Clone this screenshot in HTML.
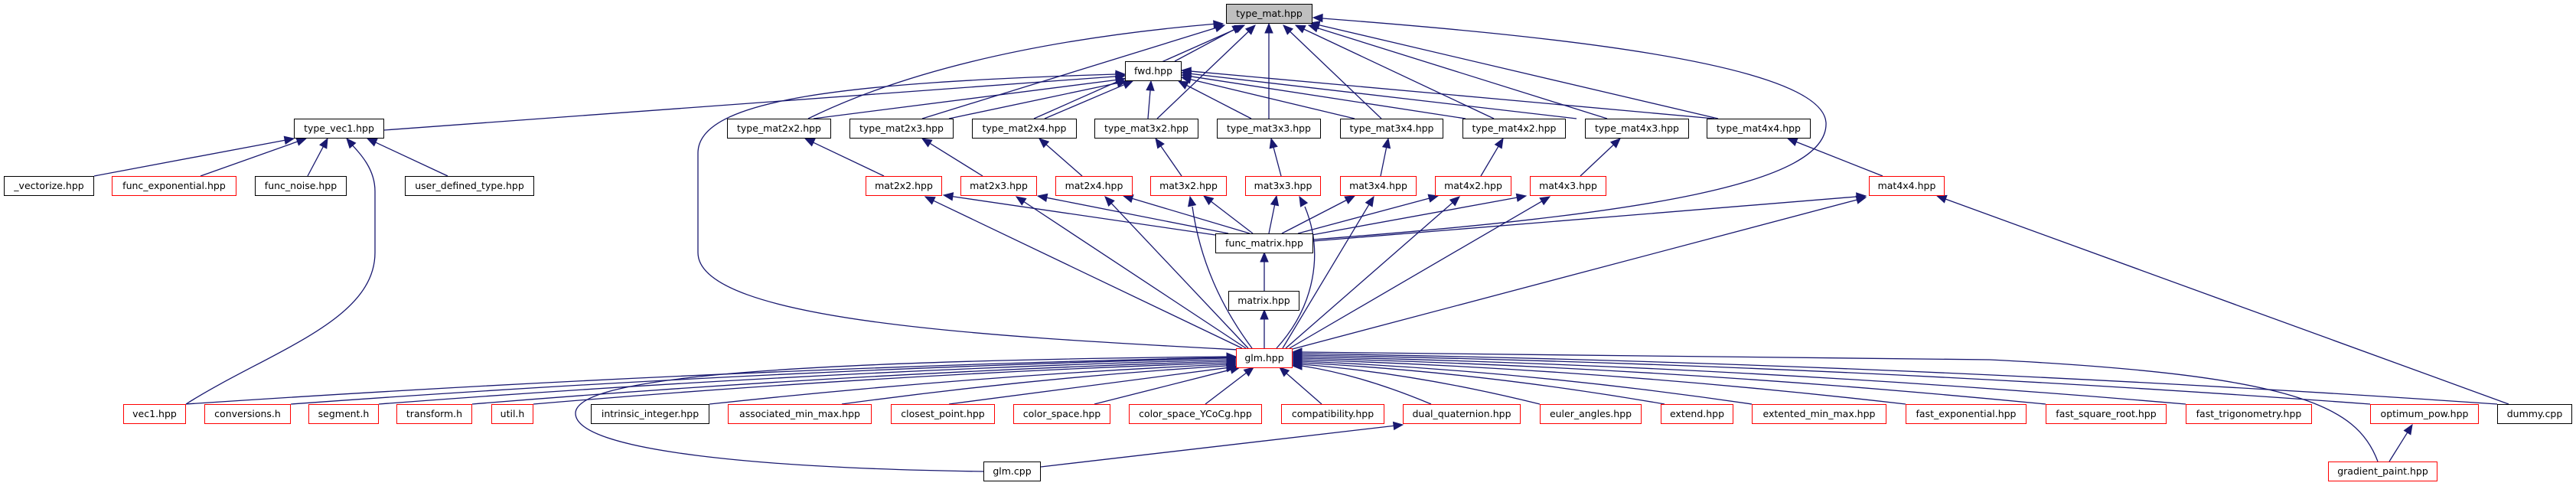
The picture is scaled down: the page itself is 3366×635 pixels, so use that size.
<!DOCTYPE html>
<html><head><meta charset="utf-8"><style>
html,body{margin:0;padding:0;background:#fff;}
#c{position:relative;width:3366px;height:635px;overflow:hidden;}
svg{position:absolute;left:0;top:0;}
.n{position:absolute;box-sizing:border-box;border:1px solid #000;background:#fff;font:12.5px "DejaVu Sans","Liberation Sans",sans-serif;color:#000;text-align:center;line-height:24px;height:26px;white-space:nowrap;}
.r{border-color:#ff0000;}
.g{background:#bfbfbf;}
</style></head><body><div id="c">
<svg id="s" width="3366" height="635" xmlns="http://www.w3.org/2000/svg"></svg>
<div class="n g" style="left:1602px;top:5px;width:113px">type_mat.hpp</div>
<div class="n" style="left:1470px;top:80px;width:74px">fwd.hpp</div>
<div class="n" style="left:384px;top:155px;width:118px">type_vec1.hpp</div>
<div class="n" style="left:950px;top:155px;width:136px">type_mat2x2.hpp</div>
<div class="n" style="left:1110px;top:155px;width:136px">type_mat2x3.hpp</div>
<div class="n" style="left:1270px;top:155px;width:137px">type_mat2x4.hpp</div>
<div class="n" style="left:1430px;top:155px;width:136px">type_mat3x2.hpp</div>
<div class="n" style="left:1590px;top:155px;width:136px">type_mat3x3.hpp</div>
<div class="n" style="left:1751px;top:155px;width:135px">type_mat3x4.hpp</div>
<div class="n" style="left:1911px;top:155px;width:135px">type_mat4x2.hpp</div>
<div class="n" style="left:2071px;top:155px;width:136px">type_mat4x3.hpp</div>
<div class="n" style="left:2230px;top:155px;width:136px">type_mat4x4.hpp</div>
<div class="n" style="left:5px;top:230px;width:118px">_vectorize.hpp</div>
<div class="n r" style="left:146px;top:230px;width:163px">func_exponential.hpp</div>
<div class="n" style="left:333px;top:230px;width:120px">func_noise.hpp</div>
<div class="n" style="left:529px;top:230px;width:169px">user_defined_type.hpp</div>
<div class="n r" style="left:1131px;top:230px;width:100px">mat2x2.hpp</div>
<div class="n r" style="left:1255px;top:230px;width:100px">mat2x3.hpp</div>
<div class="n r" style="left:1379px;top:230px;width:101px">mat2x4.hpp</div>
<div class="n r" style="left:1503px;top:230px;width:100px">mat3x2.hpp</div>
<div class="n r" style="left:1627px;top:230px;width:99px">mat3x3.hpp</div>
<div class="n r" style="left:1751px;top:230px;width:100px">mat3x4.hpp</div>
<div class="n r" style="left:1875px;top:230px;width:100px">mat4x2.hpp</div>
<div class="n r" style="left:1999px;top:230px;width:100px">mat4x3.hpp</div>
<div class="n r" style="left:2442px;top:230px;width:99px">mat4x4.hpp</div>
<div class="n" style="left:1588px;top:305px;width:128px">func_matrix.hpp</div>
<div class="n" style="left:1605px;top:380px;width:93px">matrix.hpp</div>
<div class="n r" style="left:1615px;top:455px;width:74px">glm.hpp</div>
<div class="n r" style="left:161px;top:528px;width:82px">vec1.hpp</div>
<div class="n r" style="left:267px;top:528px;width:113px">conversions.h</div>
<div class="n r" style="left:403px;top:528px;width:92px">segment.h</div>
<div class="n r" style="left:518px;top:528px;width:99px">transform.h</div>
<div class="n r" style="left:642px;top:528px;width:55px">util.h</div>
<div class="n" style="left:772px;top:528px;width:155px">intrinsic_integer.hpp</div>
<div class="n r" style="left:951px;top:528px;width:188px">associated_min_max.hpp</div>
<div class="n r" style="left:1164px;top:528px;width:136px">closest_point.hpp</div>
<div class="n r" style="left:1324px;top:528px;width:127px">color_space.hpp</div>
<div class="n r" style="left:1475px;top:528px;width:174px">color_space_YCoCg.hpp</div>
<div class="n r" style="left:1674px;top:528px;width:135px">compatibility.hpp</div>
<div class="n r" style="left:1833px;top:528px;width:154px">dual_quaternion.hpp</div>
<div class="n r" style="left:2012px;top:528px;width:133px">euler_angles.hpp</div>
<div class="n r" style="left:2170px;top:528px;width:95px">extend.hpp</div>
<div class="n r" style="left:2289px;top:528px;width:176px">extented_min_max.hpp</div>
<div class="n r" style="left:2490px;top:528px;width:158px">fast_exponential.hpp</div>
<div class="n r" style="left:2673px;top:528px;width:158px">fast_square_root.hpp</div>
<div class="n r" style="left:2856px;top:528px;width:165px">fast_trigonometry.hpp</div>
<div class="n r" style="left:3097px;top:528px;width:142px">optimum_pow.hpp</div>
<div class="n" style="left:3263px;top:528px;width:98px">dummy.cpp</div>
<div class="n" style="left:1285px;top:603px;width:75px">glm.cpp</div>
<div class="n r" style="left:3042px;top:603px;width:143px">gradient_paint.hpp</div>
</div>
<script>
var s=document.getElementById('s'),NS='http://www.w3.org/2000/svg',C='#191970';
function add(t,a){var e=document.createElementNS(NS,t);for(var k in a)e.setAttribute(k,a[k]);s.appendChild(e);}
function arrow(px,py,x,y){var dx=x-px,dy=y-py,L=Math.hypot(dx,dy)||1;dx/=L;dy/=L;var l=12,w=5;
var bx=x-dx*l,by=y-dy*l;add('polygon',{points:x+','+y+' '+(bx-dy*w)+','+(by+dx*w)+' '+(bx+dy*w)+','+(by-dx*w),fill:C,stroke:C,'stroke-width':1});return [bx,by];}
function E(x1,y1,x2,y2){var b=arrow(x1,y1,x2,y2);add('line',{x1:x1,y1:y1,x2:b[0],y2:b[1],stroke:C,'stroke-width':1.3});}
function P(d,cx,cy,x,y){arrow(cx,cy,x,y);add('path',{d:d,fill:'none',stroke:C,'stroke-width':1.3});}
// to type_mat
E(1535,80,1623,33);
P('M1056,155 Q1250,60 1590,31',1250,60,1598,31);
E(1205,155,1600,33);E(1351,155,1626,33);E(1512,155,1640,33);E(1658,155,1658,31);
E(1805,155,1677,33);E(1952,155,1693,33);E(2100,155,1710,33);E(2245,155,1712,30);
P('M1716,313 C2150,280 2390,240 2386,160 C2380,80 2000,45 1728,24',1900,30,1716,23);
// to fwd
E(502,170,1470,99);
P('M1618,457 C1300,440 912,420 912,330 L912,200 C912,130 1100,108 1458,97',1300,100,1470,97);
E(1063,155,1470,103);E(1240,155,1472,106);E(1365,155,1480,106);E(1500,155,1504,106);
E(1635,155,1540,106);E(1770,155,1544,101);E(1915,155,1544,98);E(2060,155,1544,95);E(2240,155,1544,92);
// to type_vec1
E(123,230,384,181);E(262,230,400,181);E(402,230,428,181);E(585,230,480,181);
P('M243,528 C350,460 490,420 490,330 L490,250 C490,220 470,200 456,185',465,195,453,181);
// type_matAxB <- matAxB
E(1155,230,1052,181);E(1284,230,1205,181);E(1414,230,1358,181);E(1544,230,1510,181);
E(1674,230,1661,181);E(1804,230,1814,181);E(1935,230,1964,181);E(2065,230,2117,181);E(2460,230,2336,181);
// func_matrix -> mats
E(1588,307,1233,255);E(1605,305,1356,256);E(1633,305,1468,256);E(1637,305,1573,256);
E(1658,305,1668,256);E(1675,305,1770,256);E(1696,305,1879,256);E(1714,307,1994,256);E(1716,315,2438,256);
// glm -> mats
E(1623,455,1209,257);E(1628,455,1328,257);E(1631,455,1444,257);
P('M1636,455 C1595,400 1568,340 1558,270',1560,280,1555,257);
P('M1668,455 C1718,400 1730,330 1705,270',1712,282,1698,257);
E(1676,455,1795,257);E(1680,455,1907,257);E(1685,455,2025,257);E(1689,456,2438,258);
E(3278,528,2531,256);
E(1652,455,1652,405);E(1652,380,1652,330);
// bottom -> glm
var L=[[243,467],[380,468],[495,470],[617,472],[697,474],[927,476],[1100,478]];
L.forEach(function(p){var x=p[0];P('M'+x+',528 Q'+((x+1615)/2)+','+(p[1]+15)+' 1603,'+p[1],1500,p[1],1615,p[1]);});
E(1240,528,1615,479);E(1430,528,1620,480);E(1575,528,1638,480);E(1727,528,1672,480);
var R=[[1870,478],[2012,476],[2175,474],[2289,472],[2490,470],[2673,468],[2856,466],[3097,464],[3263,462]];
R.forEach(function(p){var x=p[0];P('M'+x+',528 Q'+((x+1689)/2)+','+(p[1]+12)+' 1701,'+p[1],1800,p[1],1689,p[1]);});
P('M3107,603 C3080,530 3000,490 2600,470 L1701,460',1800,460,1689,460);
P('M1285,616 C1000,612 752,590 752,540 C752,495 1000,472 1603,466',1500,467,1615,466);
E(1360,610,1833,555);E(3122,603,3152,555);
</script>
</body></html>
